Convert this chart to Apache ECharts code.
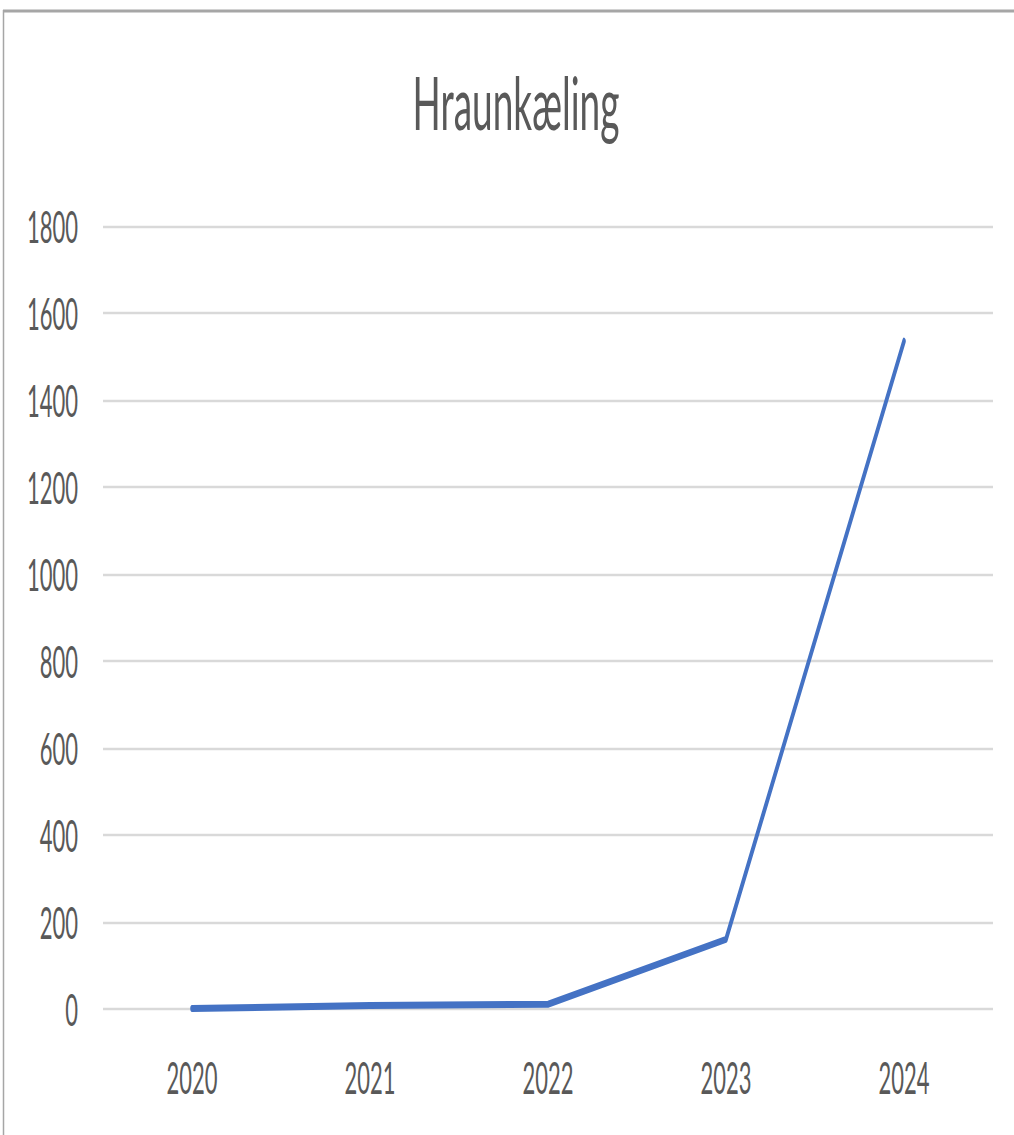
<!DOCTYPE html>
<html>
<head>
<meta charset="utf-8">
<script src="https://cdn.jsdelivr.net/npm/echarts@6/dist/echarts.min.js"></script>
<style>
  html, body { margin: 0; padding: 0; background: #fff; }
  body { width: 1014px; height: 1135px; overflow: hidden; }
  /* chart is laid out at half height and stretched vertically, giving tall narrow text */
  #chart { width: 1014px; height: 567.5px; transform: scale(1, 2); transform-origin: 0 0; }
</style>
</head>
<body>
<div id="chart"></div>
<script>
const chartTitle = 'Hraunkæling';
const years = ['2020', '2021', '2022', '2023', '2024'];
const values = [1, 8, 11, 160, 1535];
const yTicks = [0, 200, 400, 600, 800, 1000, 1200, 1400, 1600, 1800];

const textColor = '#595959';
const chart = echarts.init(document.getElementById('chart'), null, { renderer: 'svg' });

chart.setOption({
  backgroundColor: '#ffffff',
  animation: false,
  title: {
    text: chartTitle,
    left: 511,
    textAlign: 'center',
    top: 27,
    textStyle: { fontFamily: 'Lato', fontSize: 37, fontWeight: 'normal', color: textColor }
  },
  graphic: [
    { type: 'line', shape: { x1: 3, y1: 5.5, x2: 1014, y2: 5.5 }, style: { stroke: '#a6a6a6', lineWidth: 1.5 } },
    { type: 'line', shape: { x1: 3.5, y1: 5, x2: 3.5, y2: 567.5 }, style: { stroke: '#a6a6a6', lineWidth: 1.5 } }
  ],
  grid: { left: 103, right: 21, top: 113, bottom: 63.5, containLabel: false },
  xAxis: {
    type: 'category',
    data: years,
    boundaryGap: true,
    axisLine: { show: false },
    axisTick: { show: false },
    axisLabel: { color: textColor, fontFamily: 'Lato', fontSize: 22, margin: 23 }
  },
  yAxis: {
    type: 'value',
    min: yTicks[0],
    max: yTicks[yTicks.length - 1],
    interval: yTicks[1] - yTicks[0],
    axisLine: { show: false },
    axisTick: { show: false },
    axisLabel: { color: textColor, fontFamily: 'Lato', fontSize: 22, margin: 25, formatter: v => String(v) },
    splitLine: { lineStyle: { color: '#d9d9d9', width: 1.2 } }
  },
  series: [{
    type: 'line',
    data: values,
    symbol: 'none',
    smooth: false,
    lineStyle: { color: '#4472c4', width: 3.5, cap: 'round', join: 'round' }
  }]
});
</script>
</body>
</html>
